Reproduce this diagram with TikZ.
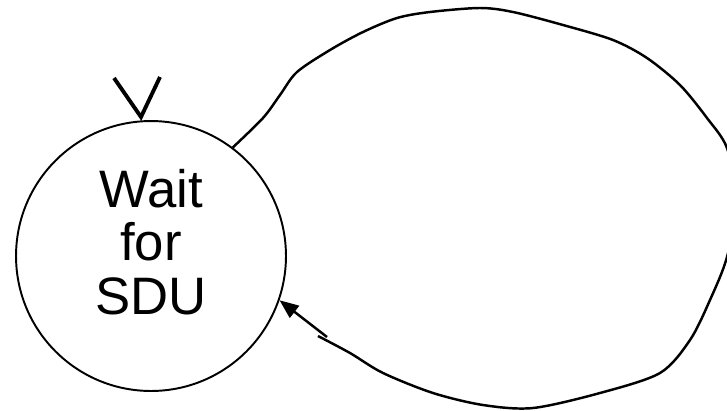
\documentclass[tikz,border=0pt]{standalone}
\usepackage{fontspec}
\setmainfont{Liberation Sans}
\usetikzlibrary{arrows.meta}

\begin{document}
\begin{tikzpicture}
[
	x=0.02cm, y=-0.02cm,
	statept/.style={circle,draw,line width=1.1pt,minimum size=5.4cm,inner sep=0pt},
	statetext/.style={align=center,inner sep=0pt,font=\fontsize{30}{30.6}\selectfont},
	loopline/.style={line width=1.4pt},
	tickmark/.style={line width=2.2pt}
]

	\useasboundingbox (0,0) rectangle (727,410);

	% state
	\node[statept] at (151,256) (wait) {};
	\node[statetext] at (151,242) (waittext) {Wait\\for\\SDU};

	% mark above the state
	\coordinate (vtip) at (141,117);
	\draw[tickmark] (114,78) -- (vtip) -- (160,77);

	% loop
	\coordinate (kinka) at (318,336);
	\coordinate (kinkb) at (327,337);
	\draw[loopline] plot[smooth, tension=0.5] coordinates {(wait.53) (263,118) (280,95) (297,72) (330,50) (363,32) (397,18) (430,12) (480,8) (513,12) (563,25) (613,40) (647,58) (680,85) (707,118) (727,148) (737,200) (727,257) (710,300) (690,340) (660,373) (600,393) (533,408) (483,405) (433,393) (383,373) (350,353) (kinka)};
	\draw[loopline,-{Triangle[length=3.8mm,width=3mm]}] (kinkb) -- (wait.-19);

\end{tikzpicture}
\end{document}
